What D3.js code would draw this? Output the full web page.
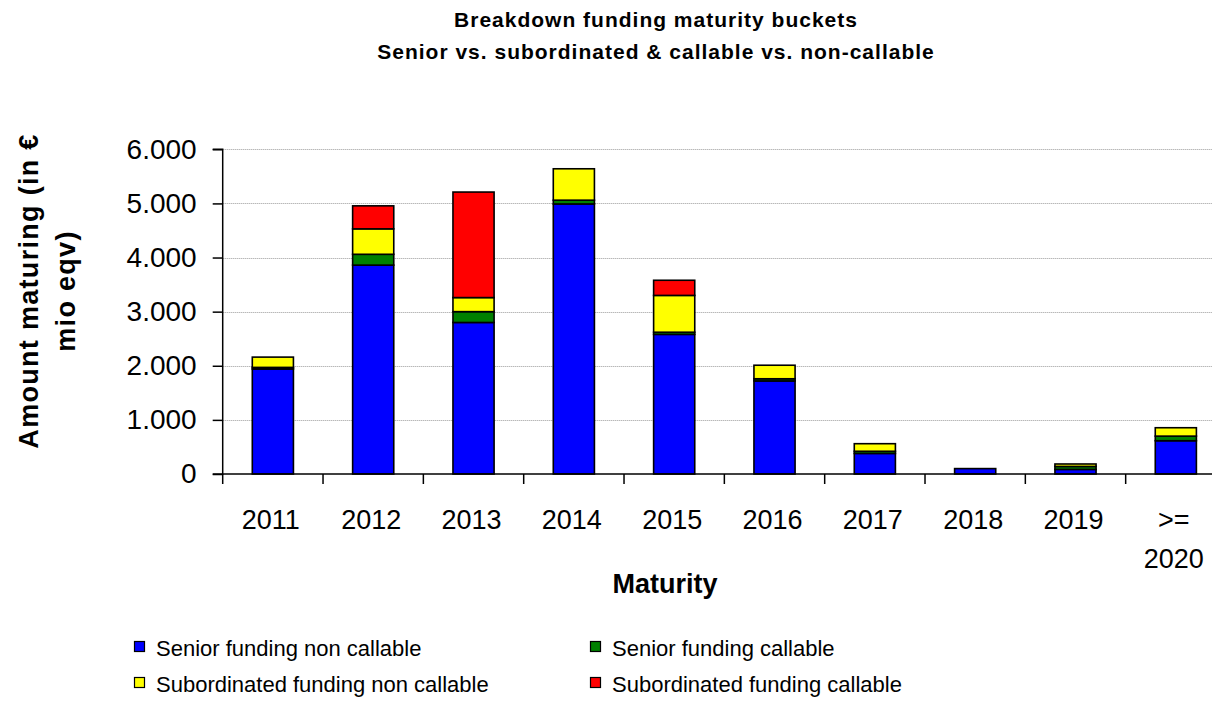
<!DOCTYPE html>
<html>
<head>
<meta charset="utf-8">
<script src="https://cdn.jsdelivr.net/npm/d3@7"></script>
<style>
  html, body { margin: 0; padding: 0; background: #fff; }
  svg { display: block; font-family: "Liberation Sans", Arial, sans-serif; }
</style>
</head>
<body>
<svg id="chart" width="1212" height="703"></svg>
<script>
// Maturity buckets (in € mio eqv)
const categories = ["2011", "2012", "2013", "2014", "2015", "2016", "2017", "2018", "2019", ">= 2020"];
const seniorNonCallable = [1940, 3860, 2800, 4990, 2580, 1720, 380, 100, 85, 615];
const seniorCallable    = [30, 200, 200, 70, 40, 40, 40, 0, 55, 85];
const subNonCallable    = [190, 470, 260, 580, 680, 250, 140, 0, 45, 155];
const subCallable       = [0, 425, 1950, 0, 280, 0, 0, 0, 0, 0];
const yTicks = [0, 1000, 2000, 3000, 4000, 5000, 6000];

const seriesNames = ["Senior funding non callable", "Senior funding callable",
                     "Subordinated funding non callable", "Subordinated funding callable"];
const seriesColors = ["#0000ff", "#008000", "#ffff00", "#ff0000"];
const seriesValues = [seniorNonCallable, seniorCallable, subNonCallable, subCallable];

const rows = categories.map((c, i) => {
  const r = { cat: c };
  seriesNames.forEach((n, k) => r[n] = seriesValues[k][i]);
  return r;
});

const svg = d3.select("#chart");
const plotLeft = 222.7, plotRight = 1226, plotTop = 149.3, plotBottom = 474;

const x = d3.scaleBand().domain(categories).range([plotLeft, plotRight]).padding(0);
const y = d3.scaleLinear().domain([0, 6000]).range([plotBottom, plotTop]);

// Title
const title = svg.append("text")
  .attr("text-anchor", "middle")
  .attr("font-weight", "bold")
  .attr("font-size", 21)
  .attr("letter-spacing", 1);
title.append("tspan").attr("x", 656).attr("y", 27).text("Breakdown funding maturity buckets");
title.append("tspan").attr("x", 656).attr("y", 59).text("Senior vs. subordinated & callable vs. non-callable");

// Gridlines
svg.append("g")
  .selectAll("line")
  .data(yTicks.filter(d => d > 0))
  .join("line")
  .attr("x1", plotLeft).attr("x2", 1212)
  .attr("y1", d => Math.round(y(d)) + 0.5).attr("y2", d => Math.round(y(d)) + 0.5)
  .attr("stroke", "#9a9a9a")
  .attr("stroke-width", 1)
  .attr("stroke-dasharray", "1,1");

// Stacked bars
const stack = d3.stack().keys(seriesNames);
const layers = stack(rows);
const barW = x.bandwidth() * 0.41;
svg.append("g")
  .selectAll("g")
  .data(layers)
  .join("g")
  .attr("fill", (d, i) => seriesColors[i])
  .selectAll("rect")
  .data(d => d.filter(p => p[1] - p[0] > 0))
  .join("rect")
  .attr("x", d => x(d.data.cat) + (x.bandwidth() - barW) / 2)
  .attr("width", barW)
  .attr("y", d => y(d[1]))
  .attr("height", d => y(d[0]) - y(d[1]))
  .attr("stroke", "#000")
  .attr("stroke-width", 1.6);

// Y axis
const yAxis = d3.axisLeft(y)
  .tickValues(yTicks)
  .tickSize(10)
  .tickPadding(16)
  .tickFormat(d => d3.format(",")(d).replace(/,/g, "."));
const gy = svg.append("g").attr("transform", `translate(${plotLeft},0)`).call(yAxis);
gy.select(".domain").attr("stroke", "#000").attr("stroke-width", 1.5).attr("d", `M-10,${plotBottom}H0V${plotTop}H-10`);
gy.selectAll(".tick line").attr("stroke", "#000").attr("stroke-width", 1.5);
gy.selectAll(".tick text").attr("font-size", 28).attr("font-family", "Liberation Sans, Arial, sans-serif").attr("fill", "#000");

// X axis: baseline, boundary ticks, category labels
const gx = svg.append("g");
gx.append("line")
  .attr("x1", plotLeft).attr("x2", 1212)
  .attr("y1", plotBottom).attr("y2", plotBottom)
  .attr("stroke", "#000").attr("stroke-width", 1.5);
gx.selectAll("line.tick")
  .data(categories)
  .join("line")
  .attr("class", "tick")
  .attr("x1", d => x(d)).attr("x2", d => x(d))
  .attr("y1", plotBottom).attr("y2", plotBottom + 10)
  .attr("stroke", "#000").attr("stroke-width", 1.5);
const xl = gx.selectAll("text")
  .data(categories)
  .join("text")
  .attr("text-anchor", "middle")
  .attr("font-size", 27)
  .attr("fill", "#000");
xl.each(function (d) {
  const t = d3.select(this);
  const cx = x(d) + x.bandwidth() / 2 - 2;
  d.split(" ").forEach((part, i) => {
    t.append("tspan").attr("x", cx).attr("y", plotBottom + 55 + i * 39).text(part);
  });
});

// Axis titles
svg.append("text")
  .attr("x", 665).attr("y", 593)
  .attr("text-anchor", "middle")
  .attr("font-weight", "bold")
  .attr("font-size", 27)
  .text("Maturity");

const yt = svg.append("text")
  .attr("transform", "translate(0,291) rotate(-90)")
  .attr("text-anchor", "middle")
  .attr("font-weight", "bold")
  .attr("font-size", 27)
  .attr("letter-spacing", 1.3);
yt.append("tspan").attr("x", 0).attr("y", 38).text("Amount maturing (in €");
yt.append("tspan").attr("x", 0).attr("y", 75).text("mio eqv)");

// Legend
const legendPos = [[134, 656], [590, 656], [134, 692], [590, 692]];
const lg = svg.append("g")
  .selectAll("g")
  .data(seriesNames)
  .join("g")
  .attr("transform", (d, i) => `translate(${legendPos[i][0]},${legendPos[i][1]})`);
lg.append("rect")
  .attr("x", 0.5).attr("y", -14.5)
  .attr("width", 10).attr("height", 10)
  .attr("fill", (d, i) => seriesColors[i])
  .attr("stroke", "#000").attr("stroke-width", 1.2);
lg.append("text")
  .attr("x", 22).attr("y", 0)
  .attr("font-size", 22)
  .attr("fill", "#000")
  .text(d => d);
</script>
</body>
</html>
